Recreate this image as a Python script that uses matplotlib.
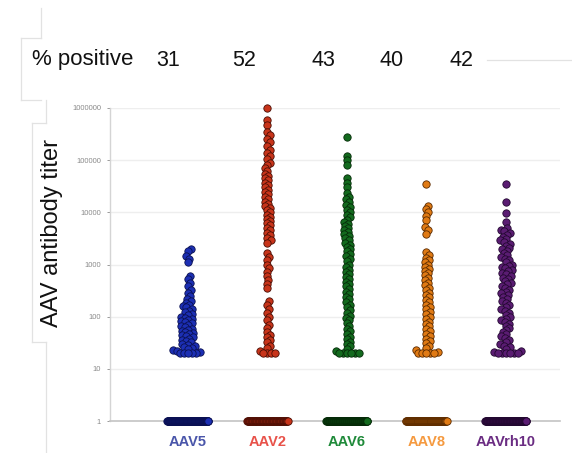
import numpy as np
import matplotlib
matplotlib.use("Agg")
import matplotlib.pyplot as plt
from matplotlib.lines import Line2D

plt.rcParams['font.family'] = ['Liberation Sans', 'DejaVu Sans']

W, H = 572, 453

# ---- data -------------------------------------------------------------
serotypes = ["AAV5", "AAV2", "AAV6", "AAV8", "AAVrh10"]
pct_positive = [31, 52, 43, 40, 42]

titer_aav5 = [2000, 1800, 1450, 1300, 1100,
              600, 520, 440, 380, 330, 290, 250, 220,
              200, 185, 170, 160, 150, 140, 130, 122, 115, 108, 100, 95, 90,
              86, 82, 78, 74, 70, 66, 62, 59, 56, 53, 50, 48, 46, 44, 42, 40,
              38, 36, 34, 32, 30, 29, 28, 26, 25, 24, 23, 22, 21,
              20, 20, 20, 20, 20]
titer_aav2 = [1000000, 600000, 480000,
              340000, 300000, 260000, 220000, 190000, 160000, 140000, 120000,
              105000, 90000, 80000, 70000, 62000, 55000, 50000, 45000, 41000,
              37000, 33000, 30000, 27000, 24000, 22000, 20000, 18000, 16000,
              14500, 13000, 12000, 11000, 10000, 9000, 8200, 7500, 6800, 6200,
              5600, 5000, 4500, 4000, 3600, 3200, 2900, 2600,
              1650, 1400, 1200, 1000, 850, 720, 600, 500, 420, 350,
              200, 170, 140, 120, 100, 85, 70, 60, 50,
              45, 40, 36, 32, 28, 25, 22, 20, 20, 20, 20]
titer_aav6 = [280000, 120000, 100000, 80000, 45000, 36000, 30000,
              23000, 20000, 18000, 16000, 14000, 12500, 11000, 10000, 9000,
              8000, 7200, 6500, 6000, 5500, 5000, 4600, 4200, 3800, 3500,
              3200, 2900, 2600, 2400, 2200, 2000, 1800, 1600, 1450, 1300,
              1150, 1000, 900, 800, 720, 650, 580, 520, 470, 420, 380, 340,
              300, 270, 240, 215, 190, 170, 150, 135, 120, 105, 95, 85, 75,
              66, 58, 52, 46, 41, 37, 33, 30, 27, 24, 22, 20, 20, 20, 20, 20, 20]
titer_aav8 = [35000, 13000, 11500, 10000, 8500, 7000, 5200, 4500, 3800,
              1700, 1500, 1350, 1200, 1100, 1000, 900, 820, 750, 680, 620,
              560, 500, 450, 400, 360, 320, 290, 260, 235, 210, 190, 170, 155,
              140, 125, 112, 100, 90, 80, 72, 65, 58, 52, 47, 42, 38, 34, 31,
              28, 25, 23, 21, 20, 20, 20, 20, 20]
titer_aavrh10 = [35000, 16000, 9600, 6500,
                 5000, 4600, 4300, 4000, 3700, 3400, 3100, 2900, 2700, 2500,
                 2300, 2100, 1950, 1800, 1650, 1500, 1400, 1300, 1200, 1100,
                 1000, 950, 900, 850, 800, 750, 700, 650, 600, 560, 520, 480,
                 450, 420, 390, 360, 330, 300, 280, 260, 240, 220, 200, 185,
                 170, 155, 140, 130, 120, 110, 100, 92, 85, 78, 72, 66, 60, 55,
                 50, 46, 42, 39, 36, 33, 30, 28, 26, 24, 22, 21,
                 20, 20, 20, 20, 20, 20]
positive_titers = [titer_aav5, titer_aav2, titer_aav6, titer_aav8, titer_aavrh10]
negative_value = 1

ytick_values = [1, 10, 100, 1000, 10000, 100000, 1000000]

# ---- styles -----------------------------------------------------------
face_colors = ["#1c2fb4", "#c8341a", "#136a1e", "#e07a14", "#5a1c72"]
edge_colors = ["#0a1050", "#4a0e04", "#052a08", "#5a2a00", "#220830"]
label_colors = ["#4a56aa", "#e8524a", "#1f8a3a", "#f59a40", "#6a2c82"]

fig = plt.figure(figsize=(W / 100, H / 100), dpi=100)
fig.patch.set_facecolor("white")

ax_l, ax_r, ax_t, ax_b = 110, 560, 108, 421
ax = fig.add_axes([ax_l / W, 1 - ax_b / H, (ax_r - ax_l) / W, (ax_b - ax_t) / H])
ax.set_yscale("log")
ax.set_ylim(1, 1e6)
ax.set_xlim(-0.98, 4.68)

# axis styling
for s in ["top", "right"]:
    ax.spines[s].set_visible(False)
ax.spines["left"].set_color("#d4d4d4")
ax.spines["left"].set_linewidth(1.0)
ax.spines["bottom"].set_color("#c4c4c4")
ax.spines["bottom"].set_linewidth(1.2)
ax.set_yticks(ytick_values)
ax.set_yticklabels([str(v) for v in ytick_values])
ax.yaxis.set_minor_locator(matplotlib.ticker.NullLocator())
ax.tick_params(axis="y", labelsize=5.5, colors="#8a8a8a", length=2.5, width=0.6, pad=4)
for yv in ytick_values[1:]:
    ax.axhline(yv, color="#eeeeee", lw=1.0, zorder=0)

ax.set_xticks(range(len(serotypes)))
ax.set_xticklabels(serotypes, fontsize=10.5, fontweight="bold")
for lab, c in zip(ax.get_xticklabels(), label_colors):
    lab.set_color(c)
ax.tick_params(axis="x", length=0, pad=10)

# ---- swarm layout in pixel space ------------------------------------------
fig.canvas.draw()
px_per_x = ax.transData.transform((1, 1))[0] - ax.transData.transform((0, 1))[0]


def swarm(ypix, d):
    xs = np.zeros(len(ypix))
    placed = []
    for i in np.argsort(ypix):
        y = ypix[i]
        near = [(px, py) for px, py in placed if abs(py - y) < d]
        cands = [0.0]
        for px, py in near:
            dx = np.sqrt(max(d * d - (py - y) ** 2, 0.0))
            cands += [px + dx, px - dx]
        cands.sort(key=abs)
        for c in cands:
            if all((c - px) ** 2 + (y - py) ** 2 >= d * d - 1e-6 for px, py in near):
                xs[i] = c
                break
        placed.append((xs[i], y))
    return xs


ms = 28
for k, (vals, pct) in enumerate(zip(positive_titers, pct_positive)):
    vals = np.asarray(vals, dtype=float)
    # negatives at titer 1, count implied by the stated % positive
    n_neg = int(round(len(vals) * (100 - pct) / pct))
    neg_off = np.linspace(-20.5, 20.5, n_neg) / px_per_x
    ax.scatter(k + neg_off, np.full(n_neg, negative_value), s=ms,
               facecolor=face_colors[k], edgecolor=edge_colors[k],
               linewidth=0.6, zorder=3, clip_on=False)
    ypix = ax.transData.transform(np.column_stack([np.full(len(vals), k), vals]))[:, 1]
    off = swarm(ypix, 4.0) / px_per_x
    ax.scatter(k + off, vals, s=ms, facecolor=face_colors[k],
               edgecolor=edge_colors[k], linewidth=0.6, zorder=3, clip_on=False)

fig.text(52 / W, 1 - 233 / H, "AAV antibody titer", rotation=90,
         ha="center", va="center", fontsize=17, color="#111111")

# header row
fig.text(32 / W, 1 - 60 / H, "% positive", ha="left", va="center",
         fontsize=16, color="#111111")
for xc, p in zip([168, 244, 323, 392, 461], pct_positive):
    fig.text(xc / W, 1 - 60 / H, str(p), ha="center", va="center",
             fontsize=15.5, color="#111111")

# faint panel outlines
faint = "#e2e2e2"
segs = [
    [(41, 8), (41, 38)], [(21, 38), (41, 38)], [(21, 38), (21, 100)],
    [(21, 100), (41, 100)],
    [(46, 100), (46, 123)], [(32, 123), (46, 123)], [(32, 123), (32, 342)],
    [(32, 342), (46, 342)], [(46, 342), (46, 453)],
    [(487, 60), (572, 60)],
]
for (x0, y0), (x1, y1) in segs:
    fig.add_artist(Line2D([x0 / W, x1 / W], [1 - y0 / H, 1 - y1 / H],
                          transform=fig.transFigure, color=faint, lw=0.9))

fig.savefig("out.png", dpi=100, facecolor="white")
